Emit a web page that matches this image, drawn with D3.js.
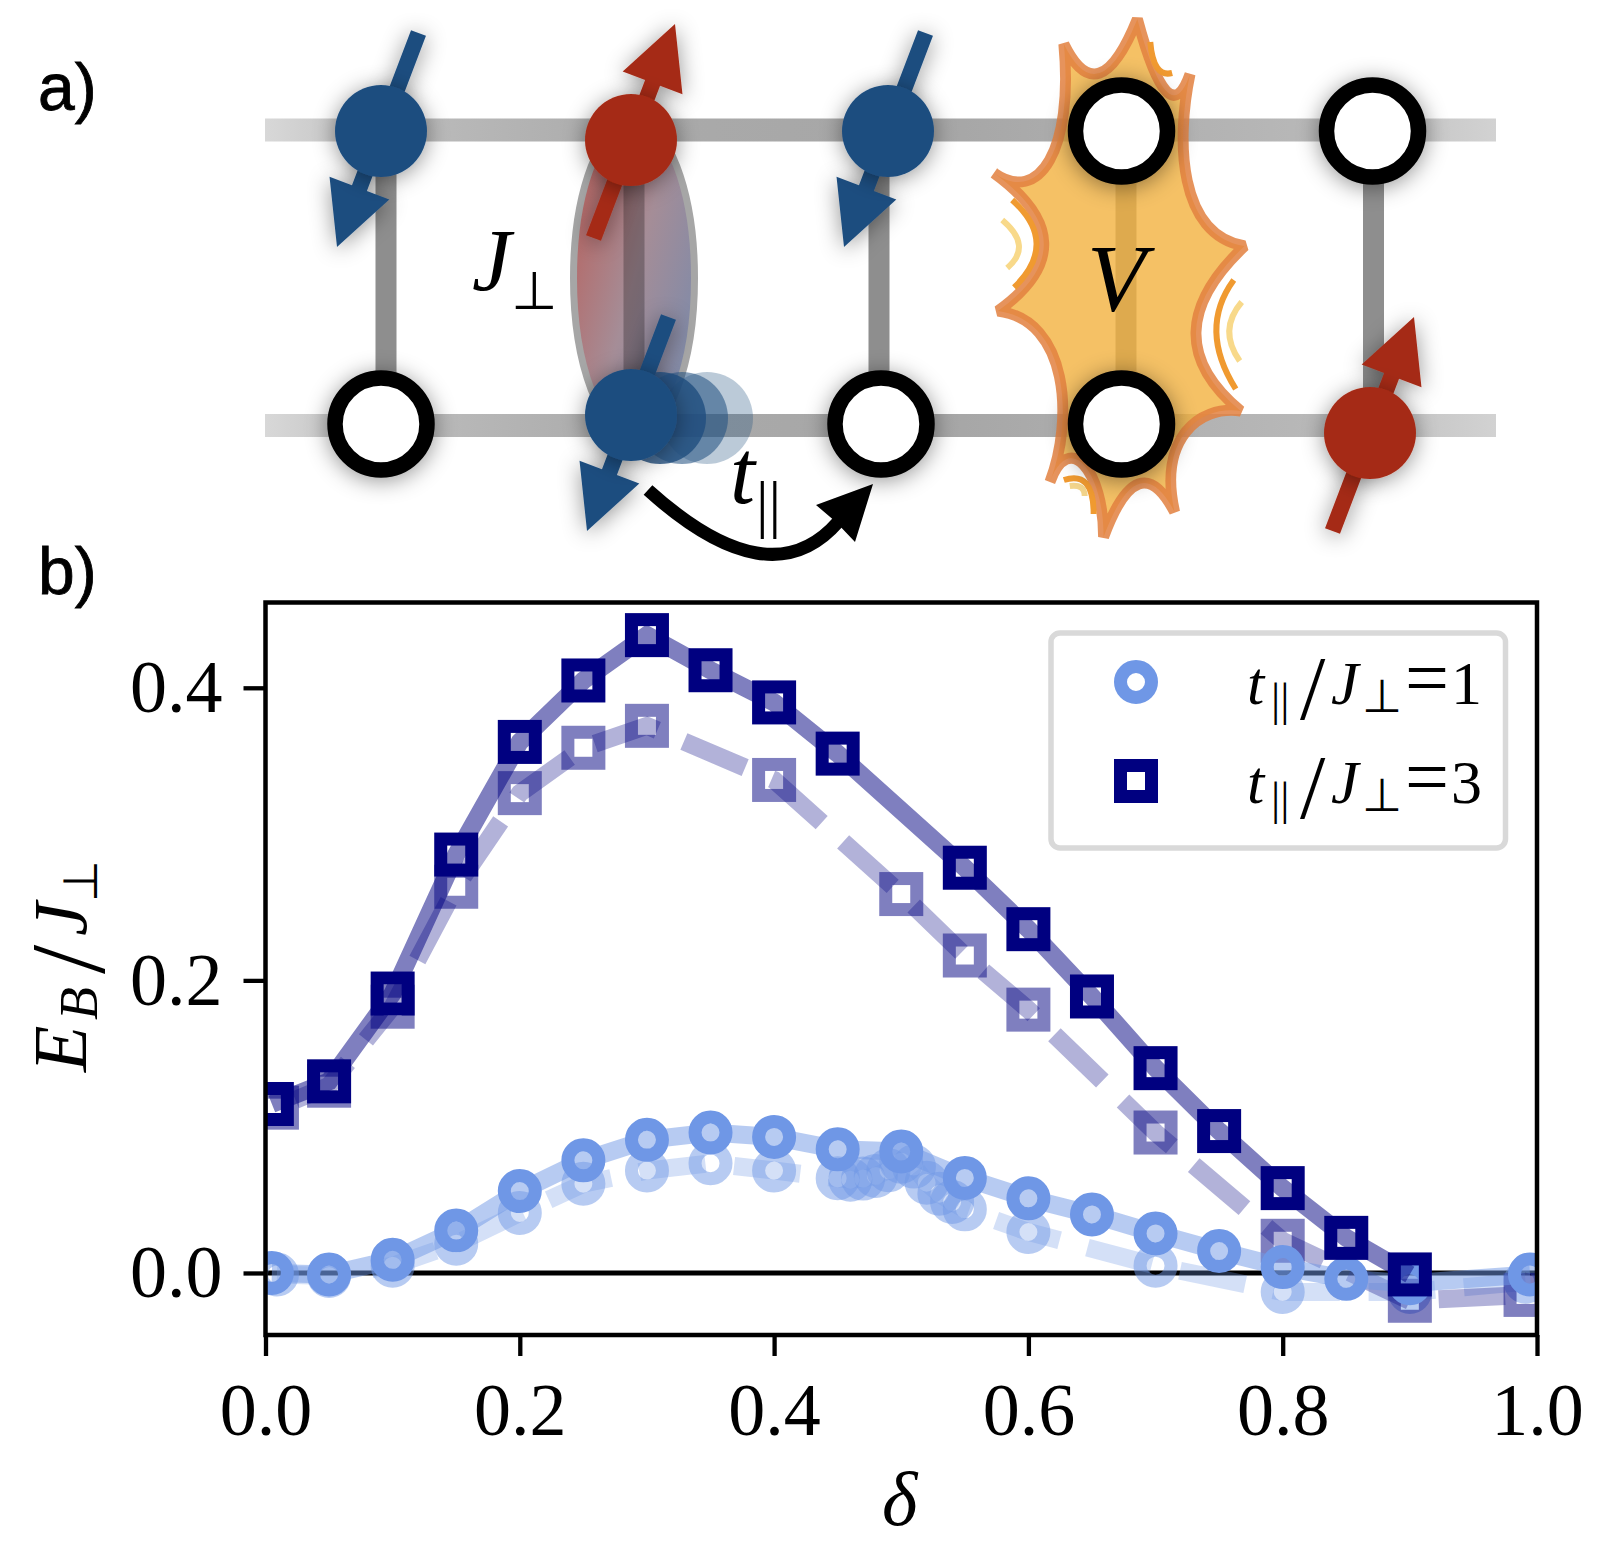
<!DOCTYPE html>
<html>
<head>
<meta charset="utf-8">
<script src="https://cdn.jsdelivr.net/npm/d3@7"></script>
<style>
  body { margin: 0; background: #fff; }
  svg { display: block; }
</style>
</head>
<body>
<div id="chart"></div>
<script>
// Panel b data
const x_t3 = [0.005, 0.05, 0.1, 0.15, 0.2, 0.25, 0.3, 0.35, 0.4, 0.45, 0.55, 0.6, 0.65, 0.7, 0.75, 0.8, 0.85, 0.9];
const y_t3 = [0.1155, 0.131, 0.191, 0.286, 0.363, 0.405, 0.436, 0.412, 0.390, 0.355, 0.277, 0.235, 0.189, 0.140, 0.097, 0.058, 0.024, -0.001];

const x_t3_faded = [0.009, 0.05, 0.1, 0.15, 0.2, 0.25, 0.3, 0.4, 0.5, 0.55, 0.6, 0.7, 0.8, 0.9, 0.991];
const y_t3_faded = [0.113, 0.128, 0.182, 0.264, 0.328, 0.359, 0.374, 0.337, 0.259, 0.217, 0.180, 0.096, 0.022, -0.019, -0.015];

const x_t1 = [0.005, 0.05, 0.1, 0.15, 0.2, 0.25, 0.3, 0.35, 0.4, 0.45, 0.5, 0.55, 0.6, 0.65, 0.7, 0.75, 0.8, 0.85, 0.9, 0.9945];
const y_t1 = [0.0, -0.001, 0.009, 0.029, 0.056, 0.077, 0.091, 0.096, 0.093, 0.0845, 0.083, 0.065, 0.051, 0.040, 0.027, 0.015, 0.004, -0.004, -0.007, -0.001];

const x_t1_faded = [0.009, 0.05, 0.1, 0.15, 0.2, 0.25, 0.3, 0.35, 0.4, 0.45, 0.46, 0.47, 0.48, 0.49, 0.5, 0.51, 0.52, 0.53, 0.54, 0.55, 0.6, 0.7, 0.8, 0.9, 0.991];
const y_t1_faded = [-0.001, -0.002, 0.005, 0.02, 0.041, 0.061, 0.07, 0.075, 0.07, 0.0647, 0.0638, 0.0645, 0.0663, 0.0702, 0.0761, 0.0727, 0.0617, 0.0542, 0.0485, 0.0435, 0.028, 0.005, -0.013, -0.013, -0.006];

const x_ticks = [0, 0.2, 0.4, 0.6, 0.8, 1.0];
const y_ticks = [0, 0.2, 0.4];
const legend_values = [1, 3];

// Colours
const col_t1 = "#6f97e6", col_t3 = "#000080";
const col_blue = "#1f4e7f", col_red = "#a52b17";

// Lattice for panel a
const site_x = [[381, 631, 888, 1121.5, 1372.5], [381, 631, 881, 1121.5, 1370]];
const row_y = [[131, 140, 131, 131, 131], [424, 415, 424, 424, 433]];
const rung_x = [386, 634, 879, 1126, 1373.5];
// u = spin up, d = spin down, o = hole
const site_state = [["d", "u", "d", "o", "o"], ["o", "d", "o", "o", "u"]];
const ghost_x = [707, 682, 660];
const ghost_opacity = [0.3, 0.55, 0.8];

const width = 1614, height = 1542;
const serif = "'Liberation Serif', serif";
const sans = "'DejaVu Sans', sans-serif";

const svg = d3.select("#chart").append("svg")
    .attr("width", width)
    .attr("height", height)
    .attr("viewBox", `0 0 ${width} ${height}`);

const defs = svg.append("defs");

const shadow = defs.append("filter").attr("id", "shadow")
    .attr("x", "-80%").attr("y", "-80%").attr("width", "260%").attr("height", "260%");
shadow.append("feDropShadow")
    .attr("dx", 0).attr("dy", 3)
    .attr("stdDeviation", 11)
    .attr("flood-color", "#000")
    .attr("flood-opacity", 0.42);

const barGrad = defs.append("linearGradient").attr("id", "barGrad");
[[0, "#d8d8d8"], [0.1, "#bdbdbd"], [0.3, "#aaaaaa"], [0.55, "#a6a6a6"], [0.85, "#b8b8b8"], [1, "#d2d2d2"]]
    .forEach(s => barGrad.append("stop").attr("offset", s[0]).attr("stop-color", s[1]));

const singletGrad = defs.append("linearGradient").attr("id", "singletGrad")
    .attr("x1", 0).attr("y1", 0.15).attr("x2", 1).attr("y2", 0.85);
[[0, "#b8625e"], [0.5, "#a58d97"], [1, "#7a8aab"]]
    .forEach(s => singletGrad.append("stop").attr("offset", s[0]).attr("stop-color", s[1]));

// text made of several runs: [string, x offset, y offset, size, family, italic]
function mathText(parent, x, y, runs) {
    const t = parent.append("text").attr("fill", "#000");
    runs.forEach(r => {
        t.append("tspan")
            .attr("x", x + r[1])
            .attr("y", y + r[2])
            .style("font-size", r[3] + "px")
            .style("font-family", r[4] || serif)
            .style("font-style", r[5] === false ? "normal" : "italic")
            .text(r[0]);
    });
    return t;
}

// ---------- panel a ----------
const a = svg.append("g");

row_y.forEach((ys, i) => {
    const yc = i === 0 ? 130 : 425.5;
    a.append("rect")
        .attr("x", 265).attr("y", yc - 11.5)
        .attr("width", 1231).attr("height", 23)
        .attr("fill", "url(#barGrad)");
});
rung_x.forEach(x => {
    a.append("rect")
        .attr("x", x - 10.5).attr("y", 130)
        .attr("width", 21).attr("height", 295)
        .attr("fill", "#8e8e8e");
});

// singlet ellipse on the second rung
a.append("ellipse")
    .attr("cx", 634).attr("cy", 278)
    .attr("rx", 60.5).attr("ry", 158)
    .attr("fill", "url(#singletGrad)")
    .attr("stroke", "#a6a6a6")
    .attr("stroke-width", 7);
a.append("rect")
    .attr("x", 623.5).attr("y", 130)
    .attr("width", 21).attr("height", 295)
    .attr("fill", "#000")
    .attr("fill-opacity", 0.26);

// interaction burst on the fourth rung
const burst = a.append("g").attr("transform", "translate(880,0) scale(0.9937,1) translate(-880,0)");
burst.append("path")
    .attr("d", "M1065,44 Q1100,114.5 1139,19 Q1170.5,135.5 1192,74 C1178,140 1180,235 1247,246 Q1151,335.5 1243,411 C1200,405 1160,440 1176.5,512 Q1140,443.5 1105,537 C1105,470 1070,430 1051,482 C1075,420 1070,320 998.6,311 Q1093,244 994.6,173 C1040,205 1075,150 1065,44 Z")
    .attr("fill", "#f2b23f")
    .attr("fill-opacity", 0.8)
    .attr("stroke", "#e2803f")
    .attr("stroke-opacity", 0.85)
    .attr("stroke-width", 11)
    .attr("stroke-linejoin", "bevel");

// sound marks round the burst
const marks = [
    ["M1013,200 Q1061,243 1015,287.5", "#f09a30"],
    ["M1003,220 Q1034,246 1008,268", "#f8d98a"],
    ["M1236,280 Q1200,329 1238,389", "#f09a30"],
    ["M1244,302 Q1220,330 1242,361", "#f8d98a"],
    ["M1152,42 Q1155,78 1174,73", "#f09a30"],
    ["M1065,480 Q1095,470 1095,514", "#f09a30"],
    ["M1071,486 Q1086,484 1086,496", "#f3d58c"]
];
marks.forEach(m => {
    burst.append("path").attr("d", m[0])
        .attr("fill", "none")
        .attr("stroke", m[1])
        .attr("stroke-width", 6);
});

function spinArrow(cx, cy, state, color) {
    const s = state === "u" ? 1 : -1;
    const tail = [cx - s * 37.5, cy + s * 98];
    const tip = [cx + s * 44, cy - s * 116];
    const len = Math.hypot(tip[0] - tail[0], tip[1] - tail[1]);
    const ux = (tip[0] - tail[0]) / len, uy = (tip[1] - tail[1]) / len;
    const nx = -uy, ny = ux;
    const bx = tip[0] - ux * 63, by = tip[1] - uy * 63;
    const pts = [
        [tail[0] + nx * 8, tail[1] + ny * 8],
        [bx + nx * 8, by + ny * 8],
        [bx + nx * 32, by + ny * 32],
        tip,
        [bx - nx * 32, by - ny * 32],
        [bx - nx * 8, by - ny * 8],
        [tail[0] - nx * 8, tail[1] - ny * 8]
    ];
    a.append("polygon")
        .attr("points", pts.map(p => p.join(",")).join(" "))
        .attr("fill", color)
        .attr("filter", "url(#shadow)");
}

site_state.forEach((row, i) => row.forEach((state, j) => {
    if (state === "o") return;
    spinArrow(site_x[i][j], row_y[i][j], state, state === "u" ? col_red : col_blue);
}));

// moving particle trail
ghost_x.forEach((x, i) => {
    a.append("circle")
        .attr("cx", x).attr("cy", 418).attr("r", 46)
        .attr("fill", col_blue)
        .attr("fill-opacity", ghost_opacity[i]);
});

site_state.forEach((row, i) => row.forEach((state, j) => {
    const c = a.append("circle")
        .attr("cx", site_x[i][j])
        .attr("cy", row_y[i][j])
        .attr("filter", "url(#shadow)");
    if (state === "o") {
        c.attr("r", 46).attr("fill", "#fff").attr("stroke", "#000").attr("stroke-width", 15.5);
    } else {
        c.attr("r", 46).attr("fill", state === "u" ? col_red : col_blue);
    }
}));

// hopping arrow
a.append("path")
    .attr("d", "M648,490 Q770,600 838,522")
    .attr("fill", "none")
    .attr("stroke", "#000")
    .attr("stroke-width", 13);
a.append("polygon")
    .attr("points", "873,484 816,505 836,522 855,542")
    .attr("fill", "#000");

mathText(a, 472, 290, [
    ["J", 0, 0, 88],
    ["⊥", 39, 19, 53, sans, false]
]);
mathText(a, 730, 503, [
    ["t", 0, 0, 90],
    ["||", 26, 22, 63, serif, false]
]);
mathText(a, 1087, 311, [["V", 0, 0, 96]]);

svg.append("text").attr("x", 38).attr("y", 110)
    .style("font-family", "'Liberation Sans', sans-serif")
    .style("font-size", "66px")
    .attr("stroke", "#000").attr("stroke-width", 0.8)
    .text("a)");
svg.append("text").attr("x", 38).attr("y", 594)
    .style("font-family", "'Liberation Sans', sans-serif")
    .style("font-size", "66px")
    .attr("stroke", "#000").attr("stroke-width", 0.8)
    .text("b)");

// ---------- panel b ----------
const xScale = d3.scaleLinear().domain([0, 1]).range([265.5, 1537]);
const yScale = d3.scaleLinear().domain([-0.0424, 0.4583]).range([1335, 602.5]);

defs.append("clipPath").attr("id", "plotClip").append("rect")
    .attr("x", 265.5).attr("y", 602.5)
    .attr("width", 1271.5).attr("height", 732.5);

const plot = svg.append("g").attr("clip-path", "url(#plotClip)");

plot.append("line")
    .attr("x1", 265.5).attr("x2", 1537)
    .attr("y1", yScale(0)).attr("y2", yScale(0))
    .attr("stroke", "#000").attr("stroke-width", 5);

function drawSeries(xs, ys, color, shape, faded, dashShift) {
    const pts = xs.map((x, i) => [xScale(x), yScale(ys[i])]);
    const path = plot.append("path")
        .attr("d", d3.line()(pts))
        .attr("fill", "none")
        .attr("stroke", color)
        .attr("stroke-width", 18)
        .attr("stroke-opacity", faded ? 0.3 : 0.5);
    if (faded) path.attr("stroke-dasharray", "66.6 28.8").attr("stroke-dashoffset", -dashShift);

    pts.forEach(p => drawMarker(plot, p[0], p[1], color, shape, faded ? 0.5 : 1));
}

function drawMarker(g, x, y, color, shape, alpha) {
    const m = shape === "circle"
        ? g.append("circle").attr("cx", x).attr("cy", y).attr("r", 15.5)
        : g.append("rect").attr("x", x - 15.5).attr("y", y - 15.5).attr("width", 31).attr("height", 31);
    m.attr("fill", "none")
        .attr("stroke", color)
        .attr("stroke-width", 13)
        .attr("stroke-opacity", alpha);
}

drawSeries(x_t1_faded, y_t1_faded, col_t1, "circle", true, 0);
drawSeries(x_t3_faded, y_t3_faded, col_t3, "square", true, 20);
drawSeries(x_t1, y_t1, col_t1, "circle", false);
drawSeries(x_t3, y_t3, col_t3, "square", false);

// axes
const xAxis = svg.append("g")
    .attr("transform", "translate(0,1335)")
    .call(d3.axisBottom(xScale).tickValues(x_ticks).tickFormat(d3.format(".1f")).tickSize(21).tickPadding(26));
const yAxis = svg.append("g")
    .attr("transform", "translate(265.5,0)")
    .call(d3.axisLeft(yScale).tickValues(y_ticks).tickFormat(d3.format(".1f")).tickSize(22).tickPadding(21));

[xAxis, yAxis].forEach(ax => {
    ax.selectAll("path").remove();
    ax.selectAll("line").attr("stroke", "#000").attr("stroke-width", 4.3);
    ax.selectAll("text")
        .attr("fill", "#000")
        .style("font-family", serif)
        .style("font-size", "74px");
});

svg.append("rect")
    .attr("x", 265.5).attr("y", 602.5)
    .attr("width", 1271.5).attr("height", 732.5)
    .attr("fill", "none")
    .attr("stroke", "#000")
    .attr("stroke-width", 4.5);

mathText(svg, 900, 1525, [["δ", -18, 0, 76]]);

// y label
const ylab = svg.append("g").attr("transform", "translate(86,1072) rotate(-90)");
mathText(ylab, 0, 0, [
    ["E", 0, 0, 76],
    ["B", 52, 11, 54],
    ["/", 98, 18, 105, serif, false],
    ["J", 136, 0, 76],
    ["⊥", 170, 11, 48, sans, false]
]);

// legend
svg.append("rect")
    .attr("x", 1051).attr("y", 633)
    .attr("width", 454.5).attr("height", 215)
    .attr("rx", 9)
    .attr("fill", "#fff")
    .attr("stroke", "#d9d9d9")
    .attr("stroke-width", 5.5);

legend_values.forEach((v, i) => {
    const yMark = i === 0 ? 682 : 781;
    drawMarker(svg, 1136, yMark, i === 0 ? col_t1 : col_t3, i === 0 ? "circle" : "square", 1);
    mathText(svg, 1247, yMark + 22, [
        ["t", 0, 0, 62],
        ["||", 24, 11, 46, serif, false],
        ["/", 53, 15, 91, serif, false],
        ["J", 84, 0, 62],
        ["⊥", 115, 8, 46, sans, false],
        ["=", 158, 0, 78, serif, false],
        [String(v), 204, 0, 62, serif, false]
    ]);
});
</script>
</body>
</html>
